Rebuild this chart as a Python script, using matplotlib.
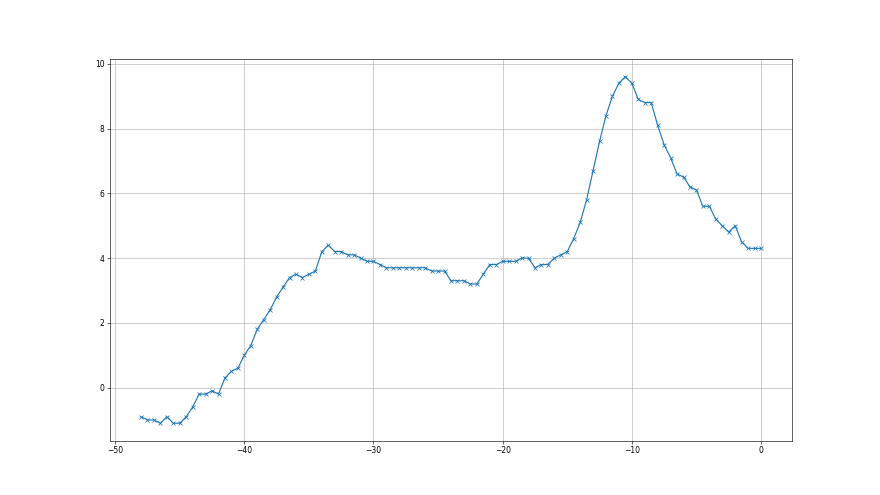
import numpy as np
import matplotlib.pyplot as plt

# x positions: every half unit from -48 to 0
x = np.arange(-48, 0.01, 0.5)

y = [
    -0.9, -1.0, -1.0, -1.1, -0.9, -1.1, -1.1, -0.9, -0.6, -0.2,   # -48 .. -43.5
    -0.2, -0.1, -0.2, 0.3, 0.5, 0.6, 1.0, 1.3, 1.8, 2.1,          # -43 .. -38.5
    2.4, 2.8, 3.1, 3.4, 3.5, 3.4, 3.5, 3.6, 4.2, 4.4,             # -38 .. -33.5
    4.2, 4.2, 4.1, 4.1, 4.0, 3.9, 3.9, 3.8, 3.7, 3.7,             # -33 .. -28.5
    3.7, 3.7, 3.7, 3.7, 3.7, 3.6, 3.6, 3.6, 3.3, 3.3,             # -28 .. -23.5
    3.3, 3.2, 3.2, 3.5, 3.8, 3.8, 3.9, 3.9, 3.9, 4.0,             # -23 .. -18.5
    4.0, 3.7, 3.8, 3.8, 4.0, 4.1, 4.2, 4.6, 5.1, 5.8,             # -18 .. -13.5
    6.7, 7.6, 8.4, 9.0, 9.4, 9.6, 9.4, 8.9, 8.8, 8.8,             # -13 .. -8.5
    8.1, 7.5, 7.1, 6.6, 6.5, 6.2, 6.1, 5.6, 5.6, 5.2,             # -8 .. -3.5
    5.0, 4.8, 5.0, 4.5, 4.3, 4.3, 4.3,                            # -3 .. 0
]

fig, ax = plt.subplots(figsize=(16, 9), dpi=55)
ax.plot(x, y, marker="x")
ax.grid(True)

plt.savefig("out.png")
